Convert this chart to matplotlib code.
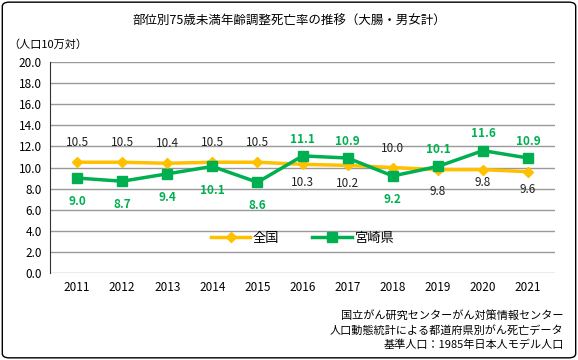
import matplotlib
matplotlib.use('Agg')
import matplotlib.pyplot as plt
from matplotlib.patches import FancyBboxPatch

plt.rcParams['font.family'] = ['Noto Sans CJK JP', 'DejaVu Sans']

years = ['2011', '2012', '2013', '2014', '2015', '2016', '2017', '2018', '2019', '2020', '2021']
zenkoku = [10.5, 10.5, 10.4, 10.5, 10.5, 10.3, 10.2, 10.0, 9.8, 9.8, 9.6]
miyazaki = [9.0, 8.7, 9.4, 10.1, 8.6, 11.1, 10.9, 9.2, 10.1, 11.6, 10.9]
# label above (1) or below (-1)
zen_pos = [1, 1, 1, 1, 1, -1, -1, 1, -1, -1, -1]
miy_pos = [-1, -1, -1, -1, -1, 1, 1, -1, 1, 1, 1]

orange = '#FFC000'
green = '#00B050'

fig = plt.figure(figsize=(5.78, 3.6), dpi=100)
frame = FancyBboxPatch((0.004, 0.006), 0.992, 0.988, boxstyle='round,pad=0,rounding_size=0.012',
                       transform=fig.transFigure, fill=False, edgecolor='black', linewidth=1.0)
fig.patches.append(frame)

ax = fig.add_axes([0.0865, 0.2417, 0.874, 0.586])
x = list(range(len(years)))
ax.plot(x, zenkoku, color=orange, marker='D', markersize=5, linewidth=2.5, label='全国', zorder=3)
ax.plot(x, miyazaki, color=green, marker='s', markersize=7, linewidth=2.5, label='宮崎県', zorder=4)

for i in x:
    off = 14 if zen_pos[i] > 0 else -13
    if i == 8:
        off = -16
    if i == 9:
        off = -9
    ax.annotate(f'{zenkoku[i]:.1f}', (i, zenkoku[i]), xytext=(0, off), textcoords='offset points',
                ha='center', va='center', fontsize=8.5, color='#222222')
    off = 12 if miy_pos[i] > 0 else -17
    ax.annotate(f'{miyazaki[i]:.1f}', (i, miyazaki[i]), xytext=(0, off), textcoords='offset points',
                ha='center', va='center', fontsize=8.5, color=green, fontweight='bold')

ax.set_xlim(-0.6, len(years) - 0.4)
ax.set_ylim(0, 20)
ax.set_yticks([i * 2 for i in range(11)])
ax.set_yticklabels([f'{i * 2:.1f}' for i in range(11)], fontsize=8.5)
ax.set_xticks(x)
ax.set_xticklabels(years, fontsize=8.5)
ax.grid(axis='y', color='#999999', linewidth=1)
ax.set_axisbelow(True)
for s in ['top', 'right', 'bottom']:
    ax.spines[s].set_visible(False)
ax.spines['left'].set_color('#333333')
ax.tick_params(axis='both', length=0, pad=6)

ax.legend(loc='center', bbox_to_anchor=(0.5, 0.165), ncol=2, frameon=False, fontsize=9.5,
          handlelength=3, columnspacing=2.5, handletextpad=0.2)

fig.text(0.5, 0.94, '部位別75歳未満年齢調整死亡率の推移（大腸・男女計）', ha='center', va='center', fontsize=9)
fig.text(0.015, 0.875, '（人口10万対）', ha='left', va='center', fontsize=8)
fig.text(0.975, 0.125, '国立がん研究センターがん対策情報センター', ha='right', va='center', fontsize=8)
fig.text(0.975, 0.083, '人口動態統計による都道府県別がん死亡データ', ha='right', va='center', fontsize=8)
fig.text(0.975, 0.041, '基準人口：1985年日本人モデル人口', ha='right', va='center', fontsize=8)

fig.savefig('out.png', dpi=100)
